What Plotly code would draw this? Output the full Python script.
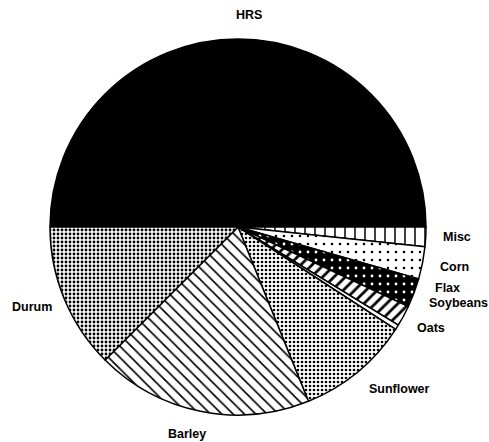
import plotly.graph_objects as go

# Data (percent shares)
crops = ["HRS", "Misc", "Corn", "Flax", "Soybeans", "Oats", "Sunflower", "Barley", "Durum"]
shares = [50.0, 1.67, 2.78, 2.5, 1.8, 0.42, 9.72, 18.61, 12.5]

# Styles (fill patterns per slice)
base_colors = ["black", "white", "white", "black", "white", "white", "white", "white", "white"]
pat_shapes = ["", "|", ".", ".", "/", "", ".", "\\", "."]
pat_fg = ["black", "black", "black", "white", "black", "black", "black", "black", "black"]
pat_bg = ["black", "white", "white", "black", "white", "white", "white", "white", "white"]
pat_size = [8, 10, 8, 8, 8, 8, 4, 8, 4]
pat_solid = [0.3, 0.15, 0.08, 0.1, 0.35, 0.3, 0.35, 0.2, 0.4]

# Label positions (pixels in 489x442 canvas)
label_px = {
    "HRS": (249, 15), "Misc": (457, 237), "Corn": (454, 267), "Flax": (447, 288),
    "Soybeans": (458, 303), "Oats": (431, 328), "Sunflower": (399, 389),
    "Barley": (187, 434), "Durum": (32, 307),
}
W, H = 489, 442

fig = go.Figure(go.Pie(
    labels=crops, values=shares, sort=False, direction="clockwise", rotation=-90,
    textinfo="none", hoverinfo="label+percent",
    marker=dict(
        colors=base_colors,
        line=dict(color="black", width=1.5),
        pattern=dict(shape=pat_shapes, fgcolor=pat_fg, bgcolor=pat_bg,
                     size=pat_size, solidity=pat_solid, fillmode="replace"),
    ),
    domain=dict(x=[50 / W, 426 / W], y=[1 - 415 / H, 1 - 39 / H]),
    showlegend=False,
))

for name in crops:
    px, py = label_px[name]
    fig.add_annotation(x=px / W, y=1 - py / H, xref="paper", yref="paper",
                       text=f"<b>{name}</b>", showarrow=False,
                       xanchor="center", yanchor="middle",
                       font=dict(family="Liberation Sans, Arial, sans-serif", size=12.5, color="black"))

fig.update_layout(width=W, height=H, margin=dict(l=0, r=0, t=0, b=0),
                  paper_bgcolor="white", plot_bgcolor="white")
fig.write_html("out.html", config={"displayModeBar": False},
               post_script="document.body.style.margin='0';")
